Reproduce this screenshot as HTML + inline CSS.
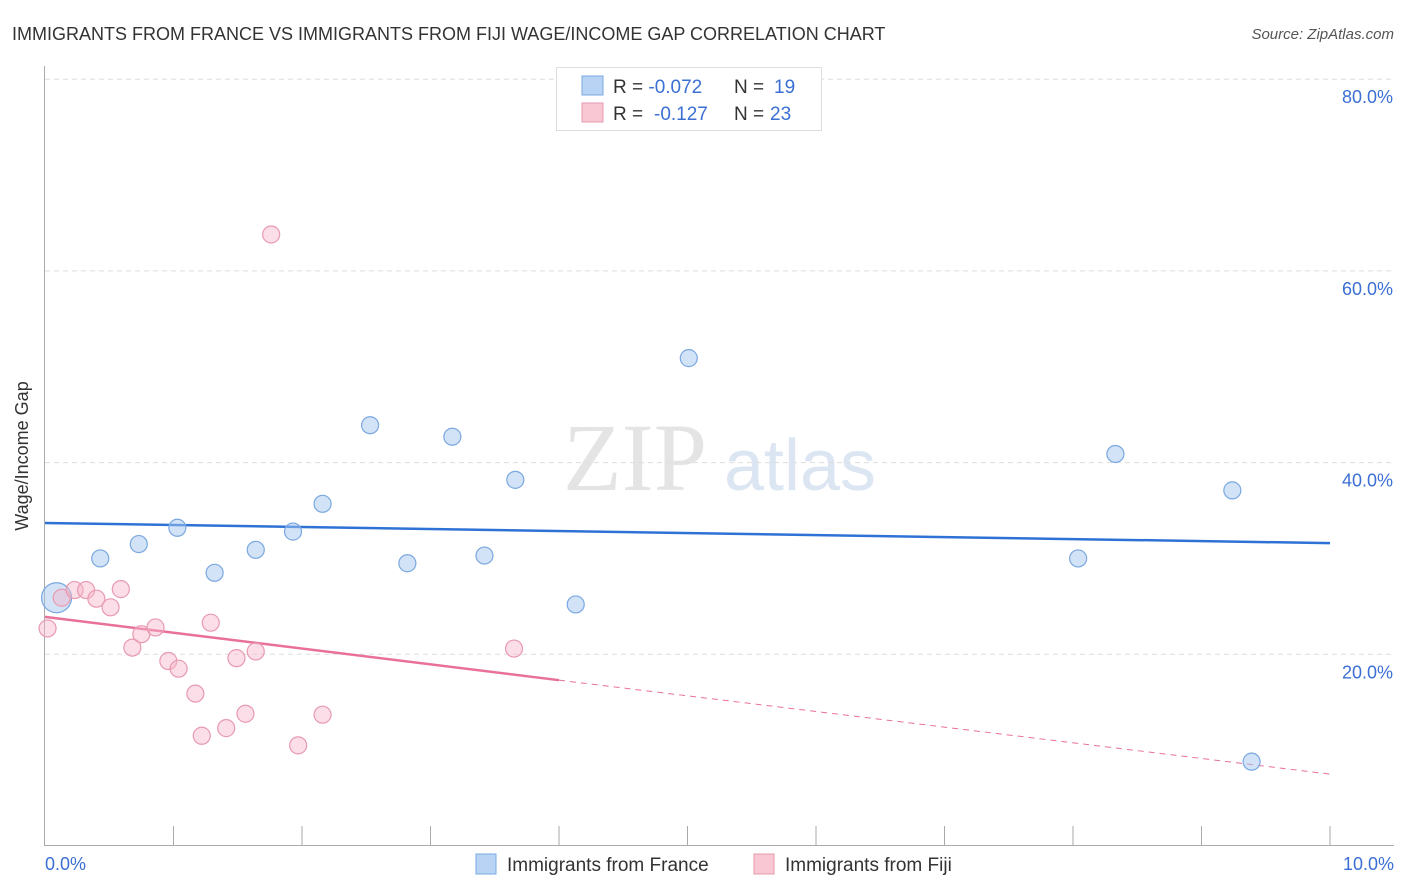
<!DOCTYPE html>
<html><head><meta charset="utf-8"><style>
body{margin:0;background:#fff;font-family:"Liberation Sans",sans-serif;}
svg{display:block}
</style></head><body>
<svg width="1406" height="892" viewBox="0 0 1406 892" id="chart">
<text x="12" y="40" font-size="18" fill="#333">IMMIGRANTS FROM FRANCE VS IMMIGRANTS FROM FIJI WAGE/INCOME GAP CORRELATION CHART</text>
<text x="1394" y="39" font-size="15" fill="#555" font-style="italic" text-anchor="end">Source: ZipAtlas.com</text>
<g>
<text x="635" y="490" font-size="96" fill="#e4e4e4" font-family="Liberation Serif,serif" text-anchor="middle">ZIP</text>
<text x="800" y="490" font-size="72" fill="#dce6f3" text-anchor="middle">atlas</text>
</g>
<g id="grid"></g>
<line x1="44.5" y1="66" x2="44.5" y2="845.5" stroke="#aaa"/>
<line x1="44" y1="845.5" x2="1394" y2="845.5" stroke="#aaa"/>
<g id="ticks"></g>
<text x="28" y="456" font-size="18" fill="#333" text-anchor="middle" transform="rotate(-90 28 456)">Wage/Income Gap</text>
<text x="45" y="870" font-size="18" fill="#3b6fd4">0.0%</text>
<text x="1394" y="870" font-size="18" fill="#3b6fd4" text-anchor="end">10.0%</text>
<g id="trends"></g>
<g id="points"></g>
<g>
<rect x="556.5" y="67.5" width="265" height="63" fill="#fff" stroke="#ddd"/>
<rect x="582" y="76" width="21" height="19" fill="#b9d3f5" stroke="#7aa8e0"/>
<rect x="582" y="103" width="21" height="19" fill="#f9c6d4" stroke="#e89ab0"/>
<text x="613" y="93" font-size="19" fill="#333">R = <tspan fill="#3b6fd4">-0.072</tspan><tspan x="734">N = </tspan><tspan fill="#3b6fd4" x="774">19</tspan></text>
<text x="613" y="120" font-size="19" fill="#333">R = <tspan fill="#3b6fd4" x="654">-0.127</tspan><tspan x="734">N = </tspan><tspan fill="#3b6fd4" x="770">23</tspan></text>
</g>
<g>
<rect x="476" y="854" width="20" height="20" fill="#b9d3f5" stroke="#7aa8e0"/>
<text x="507" y="871" font-size="19" fill="#333">Immigrants from France</text>
<rect x="754" y="854" width="20" height="20" fill="#f9c6d4" stroke="#e89ab0"/>
<text x="785" y="871" font-size="19" fill="#333">Immigrants from Fiji</text>
</g>
</svg>
<script>
const yTicks=[20,40,60,80];
const yTickLabels=["20.0%","40.0%","60.0%","80.0%"];
const xTicks=[1,2,3,4,5,6,7,8,9,10];
const franceX=[0.09,0.43,0.73,1.03,1.32,1.64,1.93,2.16,2.53,2.82,3.17,3.42,3.66,4.13,5.01,8.04,8.33,9.24,9.39];
const franceY=[25.9,30.0,31.5,33.2,28.5,30.9,32.8,35.7,43.9,29.5,42.7,30.3,38.2,25.2,50.9,30.0,40.9,37.1,8.8];
const franceSize=[2,1,1,1,1,1,1,1,1,1,1,1,1,1,1,1,1,1,1];
const fijiX=[0.02,0.13,0.23,0.32,0.40,0.51,0.59,0.68,0.75,0.86,0.96,1.04,1.17,1.22,1.29,1.41,1.49,1.56,1.64,1.76,1.97,2.16,3.65];
const fijiY=[22.7,25.9,26.7,26.7,25.8,24.9,26.8,20.7,22.1,22.8,19.3,18.5,15.9,11.5,23.3,12.3,19.6,13.8,20.3,63.8,10.5,13.7,20.6];
const franceTrend=[[0,33.7],[10,31.6]];
const fijiTrend=[[0,23.9],[4.0,17.3],[10,7.5]];
const NS="http://www.w3.org/2000/svg";
const sx=v=>45+v*128.5, sy=v=>846-v*9.585;
function mk(tag,attrs,parent){const e=document.createElementNS(NS,tag);for(const k in attrs)e.setAttribute(k,attrs[k]);document.getElementById(parent).appendChild(e);return e;}
yTicks.forEach((t,i)=>{
 const l=mk('line',{x1:45,x2:1394,y1:sy(t),y2:sy(t),stroke:'#ddd','stroke-dasharray':'5,4'},'grid');
 
 
 const tx=mk('text',{x:1393,y:sy(t)+24,'font-size':18,fill:'#3b6fd4','text-anchor':'end'},'grid');
 tx.textContent=yTickLabels[i];
 
 
});
xTicks.forEach(t=>{
 const l=mk('line',{x1:sx(t),x2:sx(t),y1:826,y2:845,stroke:'#aaa'},'ticks');
 
 
});
let l1=mk('line',{x1:sx(franceTrend[0][0]),y1:sy(franceTrend[0][1]),x2:sx(franceTrend[1][0]),y2:sy(franceTrend[1][1]),stroke:'#2f72d6','stroke-width':2.5},'trends');


let l2=mk('line',{x1:sx(fijiTrend[0][0]),y1:sy(fijiTrend[0][1]),x2:sx(fijiTrend[1][0]),y2:sy(fijiTrend[1][1]),stroke:'#e8709a','stroke-width':2.5},'trends');


let l3=mk('line',{x1:sx(fijiTrend[1][0]),y1:sy(fijiTrend[1][1]),x2:sx(fijiTrend[2][0]),y2:sy(fijiTrend[2][1]),stroke:'#e8709a','stroke-width':1,'stroke-dasharray':'6,5'},'trends');


franceX.forEach((x,i)=>{
 const c=mk('circle',{cx:sx(x),cy:sy(franceY[i]),r:franceSize[i]>1?15:8.5,fill:'rgba(165,198,240,0.5)',stroke:'#7aa8e0','stroke-width':1.2},'points');
 
 
});
fijiX.forEach((x,i)=>{
 const c=mk('circle',{cx:sx(x),cy:sy(fijiY[i]),r:8.5,fill:'rgba(246,182,202,0.45)',stroke:'#e89ab0','stroke-width':1.2},'points');
 
 
});
</script>
</body></html>
